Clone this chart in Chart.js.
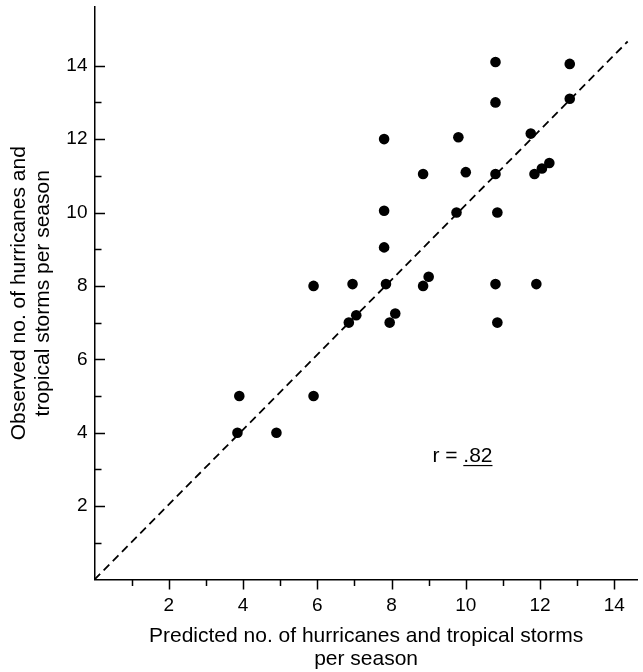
<!DOCTYPE html>
<html>
<head>
<meta charset="utf-8">
<script src="https://cdn.jsdelivr.net/npm/chart.js@4"></script>
<style>
    body { margin: 0; background: #fff; }
    #wrap { width: 643px; height: 672px; }
</style>
</head>
<body>
<div id="wrap">
    <canvas id="chartdata" width="643" height="672"></canvas>
</div>
<script>
// predicted vs observed storms per season
const predicted = [10.8, 12.8, 10.8, 12.8, 7.8, 9.8, 11.75, 8.85, 10.0, 10.8, 11.85, 12.05, 12.25,
    7.8, 9.75, 10.85, 7.8, 5.9, 6.95, 7.85, 9.0, 8.85, 10.8, 11.9, 7.05, 6.85, 8.1, 7.95, 10.85,
    3.9, 5.9, 3.85, 4.9]
const observed = [14.1, 14.05, 13.0, 13.1, 12.0, 12.05, 12.15, 11.05, 11.1, 11.05, 11.05, 11.2, 11.35,
    10.05, 10.0, 10.0, 9.05, 8.0, 8.05, 8.05, 8.25, 8.0, 8.05, 8.05, 7.2, 7.0, 7.25, 7.0, 7.0,
    5.0, 5.0, 4.0, 4.0]

// dashed reference line, start and end
const fitX = [0, 14.36]
const fitY = [0, 14.66]

const xTickValues = [1, 2, 3, 4, 5, 6, 7, 8, 9, 10, 11, 12, 13, 14]
const yTickValues = [1, 2, 3, 4, 5, 6, 7, 8, 9, 10, 11, 12, 13, 14]
const xLabels = [2, 4, 6, 8, 10, 12, 14]
const yLabels = [2, 4, 6, 8, 10, 12, 14]

const xTitle = ['Predicted no. of hurricanes and tropical storms', 'per season']
const yTitle = ['Observed no. of hurricanes and', 'tropical storms per season']

const rLabel = 'r = '
const rValue = '.82'
const rAt = { x: 9.1, y: 3.2 }

const FONT = '"Liberation Sans", Arial, Helvetica, sans-serif'

var points = []
for (let i = 0; i < predicted.length; i++) {
    points.push({ x: predicted[i], y: observed[i] })
}

var fitLine = []
for (let i = 0; i < fitX.length; i++) {
    fitLine.push({ x: fitX[i], y: fitY[i] })
}

// small inward/outward tick marks plus the r annotation
const extras = {
    id: 'extras',
    afterDraw(chart) {
        const ctx = chart.ctx
        const xs = chart.scales.x
        const ys = chart.scales.y
        const axisY = ys.getPixelForValue(0)
        const axisX = xs.getPixelForValue(0)
        ctx.save()
        ctx.strokeStyle = '#000'
        ctx.lineWidth = 1.5
        ctx.beginPath()
        xTickValues.forEach(function (v) {
            const px = Math.round(xs.getPixelForValue(v)) + 0.5
            const len = v % 2 === 0 ? 10 : 6.5
            ctx.moveTo(px, axisY)
            ctx.lineTo(px, axisY + len)
        })
        yTickValues.forEach(function (v) {
            const py = Math.round(ys.getPixelForValue(v)) + 0.5
            const len = v % 2 === 0 ? 10.5 : 7
            ctx.moveTo(axisX, py)
            ctx.lineTo(axisX + len, py)
        })
        ctx.stroke()

        ctx.fillStyle = '#000'
        ctx.font = '21px ' + FONT
        ctx.textBaseline = 'alphabetic'
        ctx.textAlign = 'left'
        const tx = xs.getPixelForValue(rAt.x)
        const ty = ys.getPixelForValue(rAt.y)
        ctx.fillText(rLabel, tx, ty)
        const w1 = ctx.measureText(rLabel).width
        ctx.fillText(rValue, tx + w1, ty)
        const w2 = ctx.measureText(rValue).width
        ctx.lineWidth = 1.2
        ctx.beginPath()
        ctx.moveTo(tx + w1, ty + 3.5)
        ctx.lineTo(tx + w1 + w2, ty + 3.5)
        ctx.stroke()
        ctx.restore()
    }
}

function tickLabel(list) {
    return function (value) {
        const r = Math.round(value * 1000) / 1000
        return list.indexOf(r) >= 0 ? String(r) : ''
    }
}

// keep the plot box where the figure has it, no room kept for edge labels
function noEdgePadding(scale) {
    scale.paddingTop = 0
    scale.paddingBottom = 0
    scale.paddingLeft = 0
    scale.paddingRight = 0
}

var ctx = document.getElementById('chartdata').getContext('2d')
var chart = new Chart(ctx, {
    type: 'scatter',
    data: {
        datasets: [{
            type: 'line',
            data: fitLine,
            borderColor: '#000',
            borderWidth: 1.8,
            borderDash: [8, 5],
            pointRadius: 0,
            fill: false
        }, {
            data: points,
            backgroundColor: '#000',
            borderColor: '#000',
            pointRadius: 5.3,
            pointBorderWidth: 0
        }]
    },
    options: {
        responsive: false,
        animation: false,
        devicePixelRatio: 1,
        layout: { padding: { top: 7, right: 0, bottom: 0, left: 0 } },
        plugins: {
            legend: { display: false },
            tooltip: { enabled: false }
        },
        scales: {
            x: {
                type: 'linear',
                min: 0,
                max: 14.63,
                afterFit: function (scale) {
                    scale.height = 92.5
                    noEdgePadding(scale)
                },
                grid: { drawOnChartArea: false, drawTicks: false },
                border: { display: true, color: '#000', width: 1.5 },
                ticks: {
                    stepSize: 1,
                    includeBounds: false,
                    autoSkip: false,
                    maxRotation: 0,
                    padding: 15,
                    color: '#000',
                    font: { family: FONT, size: 19 },
                    callback: tickLabel(xLabels)
                },
                title: {
                    display: true,
                    text: xTitle,
                    color: '#000',
                    font: { family: FONT, size: 21, lineHeight: 23 / 21 },
                    padding: { top: 0, bottom: 1 }
                }
            },
            y: {
                type: 'linear',
                min: 0,
                max: 15.6,
                afterFit: function (scale) {
                    scale.width = 94.5
                    noEdgePadding(scale)
                },
                grid: { drawOnChartArea: false, drawTicks: false },
                border: { display: true, color: '#000', width: 1.5 },
                ticks: {
                    stepSize: 1,
                    includeBounds: false,
                    autoSkip: false,
                    padding: 7,
                    color: '#000',
                    font: { family: FONT, size: 19 },
                    callback: tickLabel(yLabels)
                },
                title: {
                    display: true,
                    text: yTitle,
                    color: '#000',
                    font: { family: FONT, size: 21, lineHeight: 24 / 21 },
                    padding: { top: 7, bottom: 0 }
                }
            }
        }
    },
    plugins: [extras]
})
</script>
</body>
</html>
